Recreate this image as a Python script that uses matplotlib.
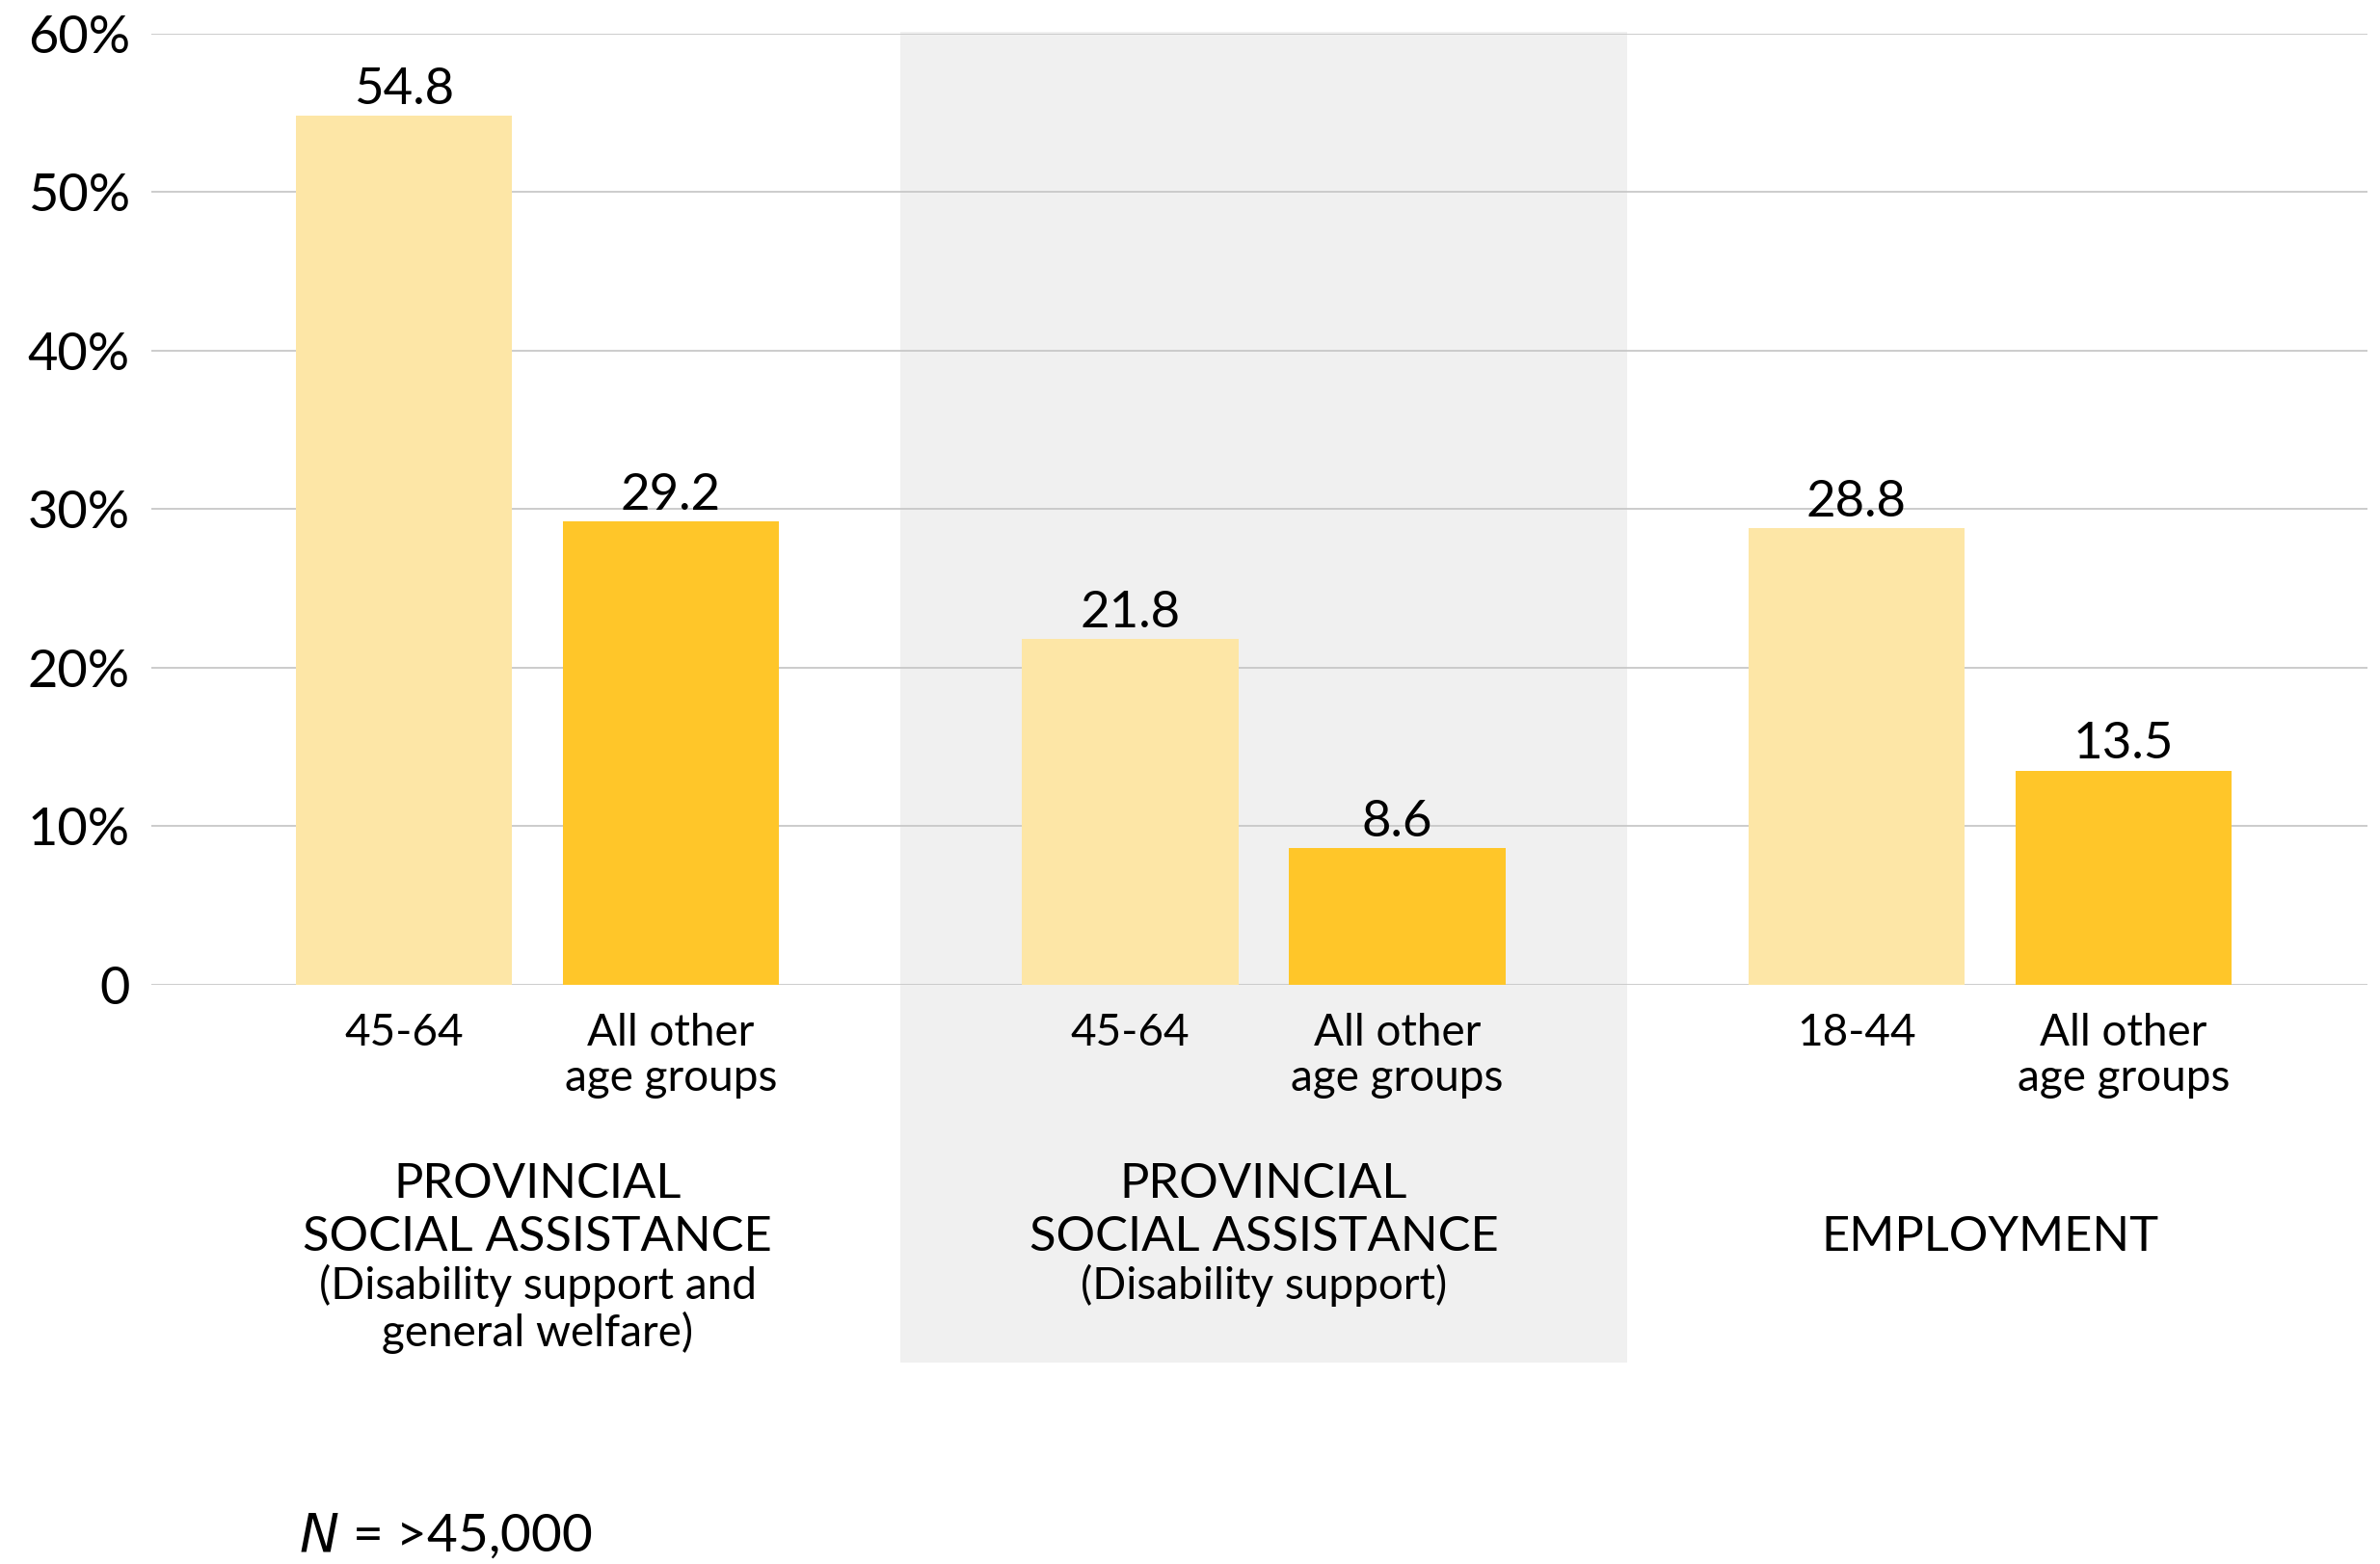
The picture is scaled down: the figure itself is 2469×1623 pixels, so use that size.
import matplotlib
matplotlib.use("Agg")
import matplotlib.pyplot as plt
from matplotlib.patches import Rectangle
import matplotlib.transforms as mtransforms

plt.rcParams["font.family"] = ["Lato", "DejaVu Sans"]

# Data
group_titles = [["PROVINCIAL", "SOCIAL ASSISTANCE"],
                ["PROVINCIAL", "SOCIAL ASSISTANCE"],
                ["", "EMPLOYMENT"]]
group_subtitles = [["(Disability support and", "general welfare)"],
                   ["(Disability support)"],
                   []]
focus_labels = ["45-64", "45-64", "18-44"]
other_label = "All other\nage groups"
focus_values = [54.8, 21.8, 28.8]
other_values = [29.2, 8.6, 13.5]
y_ticks = [0, 10, 20, 30, 40, 50, 60]
y_tick_labels = ["0", "10%", "20%", "30%", "40%", "50%", "60%"]
note = r"$\it{N}$ = >45,000"

LIGHT = "#FDE6A6"
DARK = "#FFC629"
SHADE = "#F0F0F0"
GRID = "#C8C8C8"

GROUP_GAP = 2.72
WIDTH = 0.81

fig = plt.figure(figsize=(24.69, 16.23), dpi=100)
ax = fig.add_axes([0.0636, 0.3703, 0.9311, 0.6084])

centers = [g * GROUP_GAP for g in range(len(focus_values))]
x_focus = [c - 0.5 for c in centers]
x_other = [c + 0.5 for c in centers]

# shaded band behind the middle group, extending below the axis
trans = mtransforms.blended_transform_factory(ax.transData, ax.transAxes)
band = Rectangle((centers[1] - GROUP_GAP / 2, -0.397), GROUP_GAP, 1.3987,
                 transform=trans, facecolor=SHADE, edgecolor="none",
                 clip_on=False, zorder=0)
ax.add_patch(band)

ax.bar(x_focus, focus_values, width=WIDTH, color=LIGHT, zorder=3)
ax.bar(x_other, other_values, width=WIDTH, color=DARK, zorder=3)

for x, v in list(zip(x_focus, focus_values)) + list(zip(x_other, other_values)):
    ax.annotate(f"{v:.1f}", (x, v), xytext=(0, 2.5), textcoords="offset points",
                ha="center", va="bottom", fontsize=38, color="black", zorder=4)

ax.set_xlim(-1.446, 6.854)
ax.set_ylim(0, 60)
ax.set_yticks(y_ticks, y_tick_labels)
ax.tick_params(axis="y", length=0, pad=16, labelsize=39)

xt = []
xl = []
for i in range(len(centers)):
    xt += [x_focus[i], x_other[i]]
    xl += [focus_labels[i], other_label]
ax.set_xticks(xt, xl)
ax.tick_params(axis="x", length=0, pad=21, labelsize=33)
for lab in ax.get_xticklabels():
    lab.set_linespacing(1.15)

ax.yaxis.grid(True, color=GRID, linewidth=1.3, zorder=1)
for line in ax.get_ygridlines():
    line.set_zorder(1)
for s in ax.spines.values():
    s.set_visible(False)
ax.set_facecolor("none")

# group titles under the category labels, one baseline per line
title_baselines = [-0.2238, -0.2795]
subtitle_baselines = [-0.3302, -0.3798]
for i, c in enumerate(centers):
    for line, yb in zip(group_titles[i], title_baselines):
        if line:
            ax.text(c, yb, line, transform=trans, ha="center", va="baseline",
                    fontsize=36.5)
    for line, yb in zip(group_subtitles[i], subtitle_baselines):
        ax.text(c, yb, line, transform=trans, ha="center", va="baseline",
                fontsize=33)

fig.text(310 / 2469, 1 - 1594 / 1623, note, ha="left", va="center", fontsize=39.5)

fig.savefig("out.png", dpi=100, facecolor="white")
